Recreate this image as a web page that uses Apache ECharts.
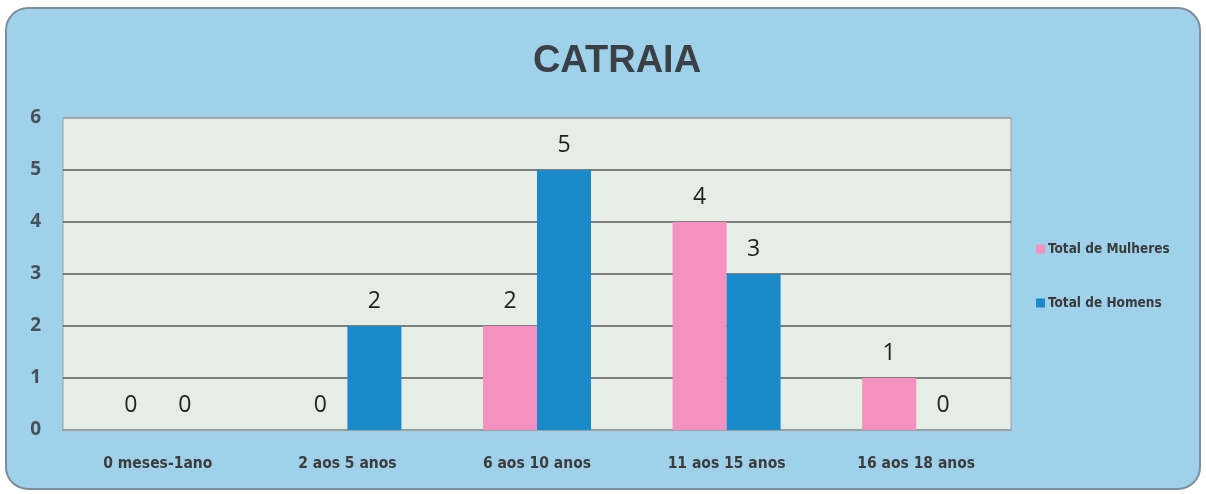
<!DOCTYPE html>
<html>
<head>
<meta charset="utf-8">
<script src="https://cdn.jsdelivr.net/npm/echarts@6/dist/echarts.min.js"></script>
<style>
html,body{margin:0;padding:0;background:#ffffff;}
#chart{width:1206px;height:494px;}
</style>
</head>
<body>
<div id="chart"></div>
<script>
const titleText = 'CATRAIA';
const categories = ['0 meses-1ano', '2 aos 5 anos', '6 aos 10 anos', '11 aos 15 anos', '16 aos 18 anos'];
const seriesNames = ['Total de Mulheres', 'Total de Homens'];
const mulheres = [0, 0, 2, 4, 1];
const homens = [0, 2, 5, 3, 0];
const yTicks = [0, 1, 2, 3, 4, 5, 6];

const narrow = "'DejaVu Sans Condensed', 'Liberation Sans Narrow', 'DejaVu Sans', sans-serif";
const chart = echarts.init(document.getElementById('chart'), null, {renderer: 'canvas'});
const labelStyle = {
  show: true,
  position: 'top',
  distance: 13,
  color: '#222222',
  fontFamily: 'Open Sans',
  fontSize: 23
};
chart.setOption({
  animation: false,
  backgroundColor: '#ffffff',
  graphic: [{
    type: 'rect',
    z: -10,
    shape: {x: 6, y: 8, width: 1194, height: 481, r: 22},
    style: {fill: '#9fd1eb', stroke: '#7f8f99', lineWidth: 2}
  }],
  title: {
    text: titleText,
    left: 612,
    top: 38,
    textAlign: 'center',
    textStyle: {fontFamily: 'Liberation Sans', fontWeight: 'bold', fontSize: 38, color: '#3b4046'}
  },
  legend: {
    orient: 'vertical',
    left: 1031,
    top: 237,
    itemGap: 40,
    itemWidth: 9,
    itemHeight: 9,
    icon: 'rect',
    data: seriesNames,
    textStyle: {fontFamily: narrow, fontWeight: 'bold', fontSize: 13.5, color: '#3a3a3a', padding: [0, 0, 0, -2]}
  },
  grid: {
    left: 63, right: 195, top: 118, bottom: 64,
    show: true,
    backgroundColor: '#e6ece6',
    borderColor: '#9aa0a0',
    borderWidth: 1
  },
  xAxis: {
    type: 'category',
    data: categories,
    axisLine: {show: true, lineStyle: {color: '#9aa0a0', width: 2}},
    axisTick: {show: false},
    axisLabel: {margin: 26, fontFamily: narrow, fontWeight: 'bold', fontSize: 15.5, color: '#3c3c3c'}
  },
  yAxis: {
    type: 'value',
    min: yTicks[0],
    max: yTicks[yTicks.length - 1],
    interval: 1,
    axisLine: {show: false},
    axisTick: {show: false},
    axisLabel: {margin: 22, fontFamily: 'Open Sans', fontWeight: 'bold', fontSize: 19, color: '#48515a'},
    splitLine: {show: true, lineStyle: {color: ['#9aa0a0', '#5a5a5a', '#5a5a5a', '#5a5a5a', '#5a5a5a', '#5a5a5a', '#9aa0a0'], width: 1.5}}
  },
  series: [
    {
      name: seriesNames[0],
      type: 'bar',
      data: mulheres,
      barWidth: 54,
      barGap: '0%',
      itemStyle: {color: '#f591c1'},
      label: labelStyle
    },
    {
      name: seriesNames[1],
      type: 'bar',
      data: homens,
      barWidth: 54,
      barGap: '0%',
      itemStyle: {color: '#1a8acb'},
      label: labelStyle
    }
  ]
});
</script>
</body>
</html>
